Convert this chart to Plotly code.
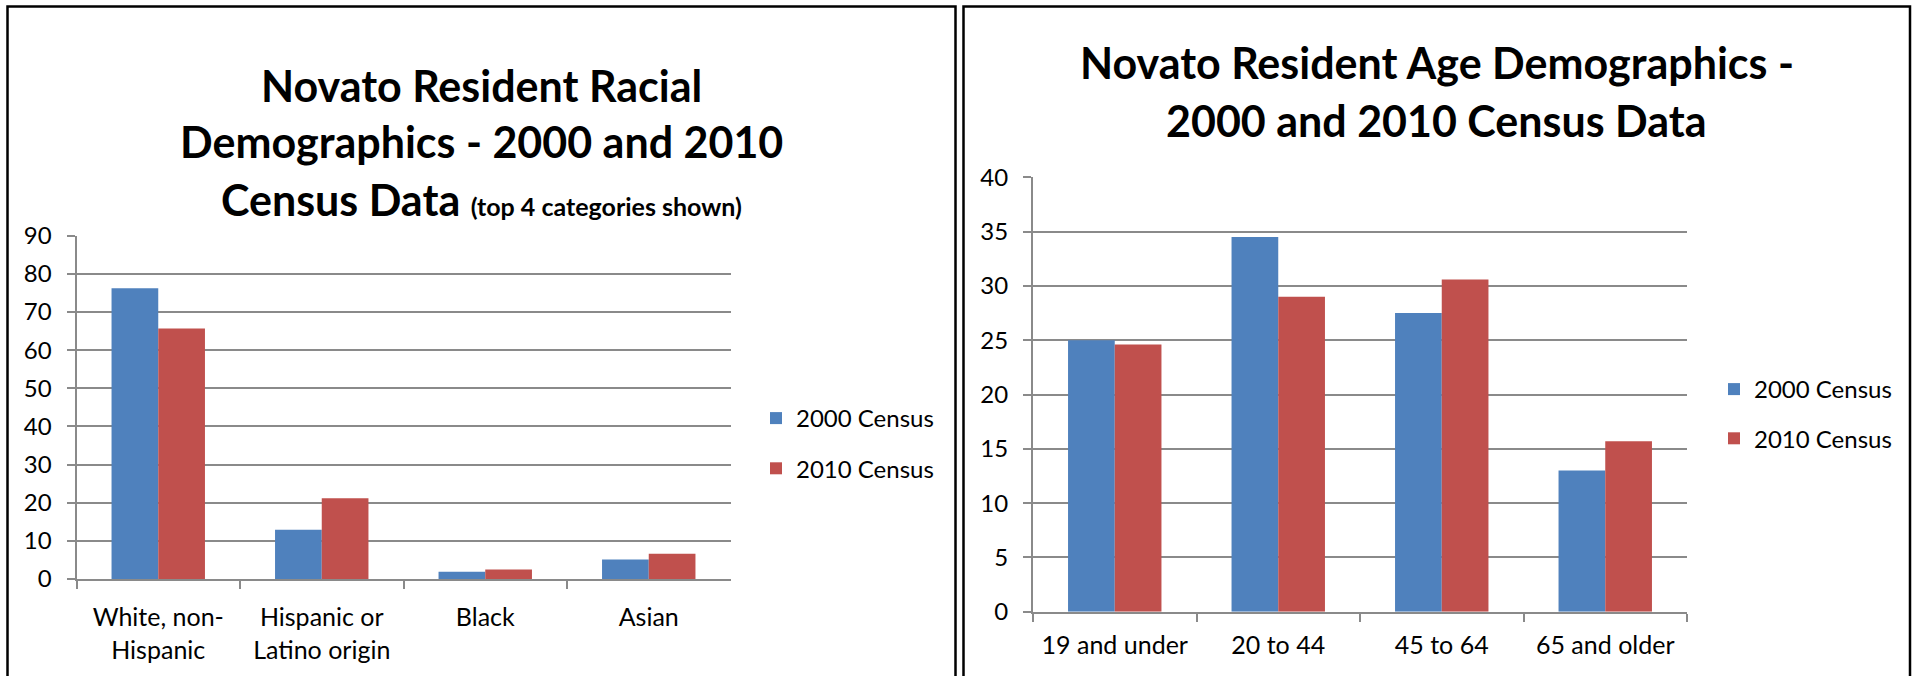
import plotly.graph_objects as go

# Racial demographics (percent of residents)
race_categories = ["White, non-<br>Hispanic", "Hispanic or<br>Latino origin", "Black", "Asian"]
race_2000 = [76.2, 12.9, 1.9, 5.1]
race_2010 = [65.7, 21.2, 2.5, 6.6]

# Age demographics (percent of residents)
age_categories = ["19 and under", "20 to 44", "45 to 64", "65 and older"]
age_2000 = [25.0, 34.5, 27.5, 13.0]
age_2010 = [24.6, 29.0, 30.6, 15.7]

series_names = ["2000 Census", "2010 Census"]
series_colors = ["#4F81BD", "#C0504D"]

W, H = 1915, 676
FONT = "Lato"
GRID = "#8A8A8A"


def px(x):
    return x / W


def py(y):
    return 1 - y / H


fig = go.Figure()

for name, color, vals in zip(series_names, series_colors, [race_2000, race_2010]):
    fig.add_trace(go.Bar(x=race_categories, y=vals, name=name, marker_color=color,
                         marker_line_width=0, xaxis="x", yaxis="y",
                         legend="legend", legendgroup="l" + name))
for name, color, vals in zip(series_names, series_colors, [age_2000, age_2010]):
    fig.add_trace(go.Bar(x=age_categories, y=vals, name=name, marker_color=color,
                         marker_line_width=0, xaxis="x2", yaxis="y2",
                         legend="legend2", legendgroup="r" + name))

axis_common = dict(showline=True, linecolor=GRID, linewidth=2, automargin=False,
                   ticks="outside", tickcolor=GRID, tickwidth=2)
x_common = dict(tickson="boundaries", ticklen=8,
                tickfont=dict(family=FONT, size=25, color="#000000"), **axis_common)
y_common = dict(showgrid=True, gridcolor=GRID, gridwidth=2, ticklen=8,
                ticklabelstandoff=10, zeroline=False,
                tickfont=dict(family=FONT, size=24, color="#000000"), **axis_common)

fig.update_layout(
    width=W, height=H,
    margin=dict(l=0, r=0, t=0, b=0),
    paper_bgcolor="white", plot_bgcolor="white",
    barmode="group", bargap=0.4286, bargroupgap=0,
    font=dict(family=FONT, color="#000000"),
    xaxis=dict(domain=[px(76.5), px(730.5)], anchor="y", ticklabelstandoff=15,
               **x_common),
    yaxis=dict(domain=[py(579), py(235.7)], anchor="x", range=[0, 90], dtick=10,
               **y_common),
    xaxis2=dict(domain=[px(1033), px(1687)], anchor="y2", ticklabelstandoff=10,
                **x_common),
    yaxis2=dict(domain=[py(611.7), py(177.4)], anchor="x2", range=[0, 40], dtick=5,
                **y_common),
    legend=dict(x=px(756), y=py(396), xanchor="left", yanchor="top",
                font=dict(family=FONT, size=24), tracegroupgap=16,
                bgcolor="rgba(0,0,0,0)"),
    legend2=dict(x=px(1714), y=py(367), xanchor="left", yanchor="top",
                 font=dict(family=FONT, size=24), tracegroupgap=15,
                 bgcolor="rgba(0,0,0,0)"),
)

# Panel frames
for x0, x1 in [(7.5, 955.5), (963.5, 1910)]:
    fig.add_shape(type="rect", xref="paper", yref="paper",
                  x0=px(x0), x1=px(x1), y0=py(690), y1=py(6.5),
                  line=dict(color="#000000", width=2.5), layer="above")

# Titles, one annotation per line
title_font = dict(family=FONT, size=43, color="#000000")
left_lines = [
    ("<b>Novato Resident Racial</b>", 85),
    ("<b>Demographics - 2000 and 2010</b>", 142),
    ("<b>Census Data </b><span style='font-size:25px'><b>(top 4 categories shown)</b></span>", 199),
]
for text, y in left_lines:
    fig.add_annotation(text=text, xref="paper", yref="paper", x=px(481.5), y=py(y),
                       xanchor="center", yanchor="middle", showarrow=False,
                       font=title_font)

right_lines = [
    ("<b>Novato Resident Age Demographics -</b>", 62),
    ("<b>2000 and 2010 Census Data</b>", 120),
]
for text, y in right_lines:
    fig.add_annotation(text=text, xref="paper", yref="paper", x=px(1436.5), y=py(y),
                       xanchor="center", yanchor="middle", showarrow=False,
                       font=title_font)

fig.write_html("out.html")
